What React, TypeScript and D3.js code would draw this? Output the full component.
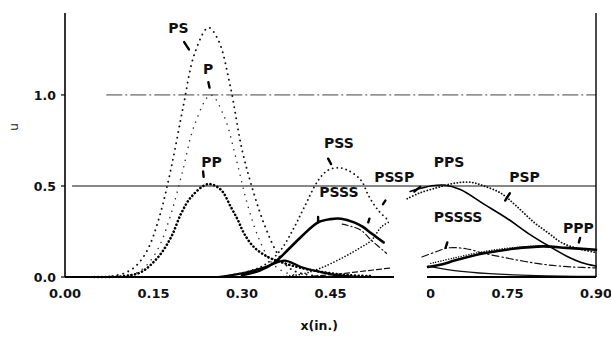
import * as d3 from 'd3';

// x in inches, u (dimensionless)
const X_TICKS = [0, 0.15, 0.3, 0.45, 0.6, 0.75, 0.9];
const Y_TICKS = [0, 0.5, 1.0];

// left group
const PS = [[0.08, 0.005], [0.10, 0.02], [0.12, 0.06], [0.14, 0.15], [0.16, 0.33], [0.18, 0.60], [0.20, 0.93], [0.22, 1.23], [0.243, 1.37], [0.26, 1.30], [0.28, 1.05], [0.30, 0.70], [0.32, 0.46], [0.34, 0.27], [0.36, 0.13], [0.38, 0.05], [0.40, 0.02], [0.43, 0.005]];
const P = [[0.10, 0.005], [0.12, 0.02], [0.14, 0.07], [0.16, 0.17], [0.18, 0.35], [0.20, 0.59], [0.22, 0.84], [0.247, 1.0], [0.27, 0.88], [0.29, 0.65], [0.31, 0.39], [0.33, 0.2], [0.35, 0.08], [0.37, 0.03], [0.39, 0.01]];
const PP = [[0.05, 0], [0.10, 0.005], [0.129, 0.027], [0.158, 0.11], [0.18, 0.22], [0.197, 0.35], [0.214, 0.44], [0.242, 0.51], [0.264, 0.48], [0.281, 0.385], [0.293, 0.313], [0.303, 0.242], [0.32, 0.165], [0.344, 0.11], [0.366, 0.082], [0.40, 0.05], [0.44, 0.025], [0.48, 0.01], [0.52, 0.005]];
const BUMP = [[0.26, 0.0], [0.30, 0.02], [0.34, 0.055], [0.372, 0.09], [0.40, 0.055], [0.434, 0.027], [0.46, 0.01], [0.50, 0.0]];

// middle group
const PSS = [[0.28, 0.01], [0.31, 0.03], [0.34, 0.07], [0.366, 0.15], [0.388, 0.27], [0.405, 0.38], [0.429, 0.53], [0.445, 0.585], [0.463, 0.60], [0.48, 0.585], [0.502, 0.53], [0.514, 0.45], [0.53, 0.37], [0.545, 0.32]];
const PSSS = [[0.30, 0.01], [0.33, 0.035], [0.354, 0.077], [0.378, 0.15], [0.40, 0.22], [0.429, 0.30], [0.45, 0.318], [0.468, 0.32], [0.49, 0.30], [0.505, 0.275], [0.519, 0.24], [0.54, 0.19]];
const PSSS_B = [[0.47, 0.29], [0.50, 0.26], [0.52, 0.2], [0.545, 0.13]];
const PSSP = [[0.36, 0.0], [0.40, 0.015], [0.434, 0.05], [0.473, 0.11], [0.50, 0.16], [0.519, 0.2], [0.536, 0.275], [0.548, 0.3]];
const MID_LOW = [[0.42, 0.005], [0.46, 0.015], [0.50, 0.03], [0.553, 0.05]];

// right group
const PPS = [[0.585, 0.47], [0.60, 0.485], [0.62, 0.50], [0.642, 0.505], [0.67, 0.48], [0.71, 0.40], [0.75, 0.32], [0.785, 0.24], [0.82, 0.17], [0.853, 0.11], [0.875, 0.08], [0.90, 0.06]];
const PSP = [[0.58, 0.43], [0.60, 0.46], [0.63, 0.49], [0.66, 0.515], [0.688, 0.52], [0.71, 0.50], [0.739, 0.46], [0.765, 0.39], [0.795, 0.30], [0.82, 0.24], [0.841, 0.19], [0.87, 0.155], [0.90, 0.135]];
const PSSSS = [[0.605, 0.11], [0.63, 0.14], [0.65, 0.16], [0.68, 0.155], [0.71, 0.13], [0.74, 0.11], [0.78, 0.085], [0.82, 0.066], [0.86, 0.055], [0.90, 0.05]];
const PPP = [[0.615, 0.055], [0.64, 0.07], [0.66, 0.09], [0.71, 0.13], [0.76, 0.155], [0.81, 0.168], [0.85, 0.16], [0.90, 0.15]];
const PPP_B = [[0.62, 0.075], [0.66, 0.105], [0.71, 0.14], [0.76, 0.162], [0.81, 0.172]];
const RIGHT_LOW = [[0.615, 0.06], [0.66, 0.035], [0.72, 0.018], [0.80, 0.008], [0.90, 0.003]];

// curve labels: text, x, y of text start (data units), then arrow from -> to
const LABELS = ['PS', 'P', 'PP', 'PSS', 'PSSP', 'PSSS', 'PPS', 'PSP', 'PSSSS', 'PPP'];
const LABEL_X = [0.175, 0.234, 0.231, 0.439, 0.524, 0.431, 0.625, 0.753, 0.625, 0.844];
const LABEL_Y = [1.34, 1.115, 0.604, 0.709, 0.522, 0.44, 0.604, 0.522, 0.302, 0.242];
const ARROWS = [
  [0.202, 1.29, 0.21, 1.25],
  [0.243, 1.07, 0.245, 1.04],
  [0.234, 0.58, 0.235, 0.55],
  [0.451, 0.62, 0.446, 0.65],
  [0.543, 0.42, 0.539, 0.4],
  [0.429, 0.33, 0.429, 0.30],
  [0.516, 0.32, 0.514, 0.3],
  [0.602, 0.495, 0.592, 0.47],
  [0.754, 0.46, 0.746, 0.42],
  [0.648, 0.19, 0.645, 0.16],
  [0.873, 0.215, 0.871, 0.19],
];

const W = 611;
const H = 337;

export default function App() {
  const x = d3.scaleLinear().domain([0, 0.9]).range([65, 596]);
  const y = d3.scaleLinear().domain([0, 1.45]).range([277, 13]);
  const line = d3.line<number[]>()
    .x(d => x(d[0]))
    .y(d => y(d[1]))
    .curve(d3.curveCatmullRom.alpha(0.5));

  const series = [
    { d: PS, w: 1.9, dash: '0.1 5.5', c: '#111' },
    { d: P, w: 1.5, dash: '0.1 6.5', c: '#333' },
    { d: PP, w: 2.6, dash: '0.1 3.6', c: '#000' },
    { d: BUMP, w: 2.2, dash: null, c: '#000' },
    { d: PSS, w: 1.8, dash: '0.1 4.5', c: '#111' },
    { d: PSSS, w: 2.6, dash: null, c: '#000' },
    { d: PSSS_B, w: 1.2, dash: '6 3 1 3', c: '#111' },
    { d: PSSP, w: 1.6, dash: '0.1 3', c: '#111' },
    { d: MID_LOW, w: 1.2, dash: '5 3', c: '#111' },
    { d: PPS, w: 1.6, dash: null, c: '#000' },
    { d: PSP, w: 1.8, dash: '0.1 3', c: '#111' },
    { d: PSSSS, w: 1.2, dash: '7 3 1.5 3', c: '#111' },
    { d: PPP, w: 2.6, dash: null, c: '#000' },
    { d: PPP_B, w: 1.4, dash: '0.1 2.5', c: '#111' },
    { d: RIGHT_LOW, w: 1.2, dash: null, c: '#111' },
  ];

  const font = '"DejaVu Sans", sans-serif';

  return (
    <svg width={W} height={H} style={{ position: 'absolute', left: 0, top: 0, background: '#fff' }}>
      <rect width={W} height={H} fill="#fff" />
      {/* reference lines */}
      <line x1={x(0.07)} x2={x(0.9)} y1={y(1)} y2={y(1)} stroke="#444" strokeWidth={1} strokeDasharray="16 3 2 3" />
      <line x1={x(0.012)} x2={x(0.9)} y1={y(0.5)} y2={y(0.5)} stroke="#111" strokeWidth={1.1} />

      {series.map((s, i) => (
        <path key={i} d={line(s.d as number[][]) || ''} fill="none" stroke={s.c} strokeWidth={s.w}
          strokeDasharray={s.dash || undefined} strokeLinecap="round" />
      ))}

      {/* axes */}
      <line x1={x(0)} x2={x(0.9)} y1={y(0)} y2={y(0)} stroke="#000" strokeWidth={2.2} />
      <line x1={x(0)} x2={x(0)} y1={y(0)} y2={y(1.45)} stroke="#000" strokeWidth={1.6} />
      <line x1={x(0.9)} x2={x(0.9)} y1={y(0)} y2={y(1.45)} stroke="#000" strokeWidth={1.4} />
      {Y_TICKS.map(t => (
        <g key={t}>
          <line x1={x(0) - 4} x2={x(0)} y1={y(t)} y2={y(t)} stroke="#000" strokeWidth={1.2} />
          <text x={x(0) - 9} y={y(t) + 5} textAnchor="end" fontFamily={font} fontWeight="bold" fontSize={12.5} fill="#111">
            {d3.format('.1f')(t)}
          </text>
        </g>
      ))}
      {X_TICKS.map(t => (
        <text key={t} x={x(t)} y={298} textAnchor="middle" fontFamily={font} fontWeight="bold" fontSize={13} fill="#111">
          {d3.format('.2f')(t)}
        </text>
      ))}

      {/* paste-up gap in the original figure */}
      <rect x={x(0.5576)} y={y(0) - 10} width={x(0.6135) - x(0.5576)} height={32} fill="#fff" />

      <text x={x(0.45) - 30} y={330} fontFamily={font} fontWeight="bold" fontSize={12.5} fill="#111">x(in.)</text>
      <text transform={`translate(18,127) rotate(-90)`} textAnchor="middle" fontFamily={font} fontSize={12} fill="#222">u</text>

      {/* curve labels */}
      {LABELS.map((l, i) => (
        <text key={l} x={x(LABEL_X[i])} y={y(LABEL_Y[i])} fontFamily={font} fontWeight="bold" fontSize={14} fill="#111">{l}</text>
      ))}
      {ARROWS.map((a, i) => (
        <line key={i} x1={x(a[0])} y1={y(a[1])} x2={x(a[2])} y2={y(a[3])} stroke="#000" strokeWidth={2.4} strokeLinecap="round" />
      ))}
    </svg>
  );
}
